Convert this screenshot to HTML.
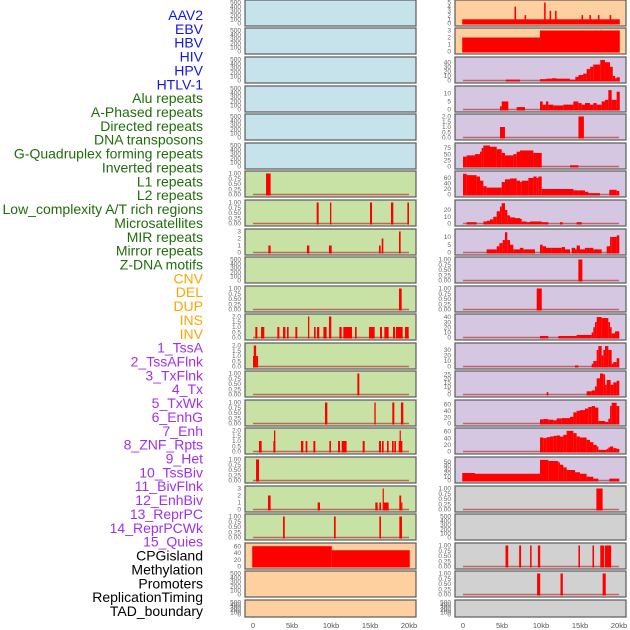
<!DOCTYPE html>
<html><head><meta charset="utf-8"><style>
html,body{margin:0;padding:0;background:#fff;width:630px;height:630px;overflow:hidden}
svg{display:block;font-family:"Liberation Sans",sans-serif}
</style></head><body>
<svg id="chart" width="630" height="630"></svg>
<script>
const labels=["AAV2","EBV","HBV","HIV","HPV","HTLV-1","Alu repeats","A-Phased repeats","Directed repeats","DNA transposons","G-Quadruplex forming repeats","Inverted repeats","L1 repeats","L2 repeats","Low_complexity A/T rich regions","Microsatellites","MIR repeats","Mirror repeats","Z-DNA motifs","CNV","DEL","DUP","INS","INV","1_TssA","2_TssAFlnk","3_TxFlnk","4_Tx","5_TxWk","6_EnhG","7_Enh","8_ZNF_Rpts","9_Het","10_TssBiv","11_BivFlnk","12_EnhBiv","13_ReprPC","14_ReprPCWk","15_Quies","CPGisland","Methylation","Promoters","ReplicationTiming","TAD_boundary"];
const labelGroups=[0,0,0,0,0,0,1,1,1,1,1,1,1,1,1,1,1,1,1,2,2,2,2,2,3,3,3,3,3,3,3,3,3,3,3,3,3,3,3,4,4,4,4,4];
const xTicks=[0,5,10,15,20];
const xTickLabels=["0","5kb","10kb","15kb","20kb"];
const T500=[0,100,200,300,400,500];
const T1=[0,0.25,0.5,0.75,1];
const T2=[0,0.5,1,1.5,2];
const T3=[0,1,2,3];
const leftBg=["b","b","b","b","b","b","g","g","g","g","g","g","g","g","g","g","g","g","g","o","o","o"];
const rightBg=["o","o","p","p","p","p","p","p","p","p","p","p","p","p","p","p","p","g2","g2","g2","g2","g2"];
const leftTicks=[T500,T500,T500,T500,T500,T500,T1,T1,T3,T500,T1,T2,T2,T1,T1,T2,T1,T3,T1,[0,20,40,60],T500,T500];
const leftYmax=[500,500,500,500,500,500,1,1,3,500,1,2,2,1,1,2,1,3,1,62,500,500];
const leftSegs=[[],[],[],[],[],[],
[[1.67,2.26,1]],
[[8.16,8.42,1],[9.87,10.04,1],[15.0,15.26,1],[17.69,17.99,1],[19.79,20.0,1]],
[[1.97,2.26,1],[6.92,7.22,1],[9.74,10.09,1],[16.15,16.37,1],[16.5,16.71,2],[18.72,18.93,3]],
[],
[[18.72,19.06,1]],
[[0.3,0.56,1],[1.03,1.45,1],[3.12,3.38,1],[3.85,4.15,1],[4.36,4.57,1],[5.43,5.68,1],[7.05,7.22,2],[7.82,8.03,1],[8.21,8.5,1],[9.02,9.44,1],[9.74,10.04,2],[11.07,11.37,1],[11.58,12.69,1],[13.08,13.29,1],[14.87,15.6,1],[16.28,16.54,1],[16.84,17.39,1],[17.95,18.21,1],[18.33,19.19,1],[19.49,19.96,1]],
[[0,0.4,1],[0.1,0.4,2],[0.4,0.65,1]],
[[13.38,13.63,1]],
[[9.23,9.53,1],[15.56,15.73,1],[17.86,18.12,1],[18.97,19.27,1]],
[[0.77,1.11,1],[2.61,2.86,1],[2.69,2.86,2],[6.15,6.45,1],[6.75,6.97,1],[7.74,7.99,1],[9.79,10.0,1],[10.9,11.15,1],[11.37,12.0,1],[14.06,14.32,1],[16.15,16.41,1],[16.54,16.75,1],[17.18,17.39,1],[17.82,18.03,1],[18.12,18.33,1],[18.68,19.15,1],[18.8,18.93,2]],
[[0.39,0.77,1]],
[[1.92,2.26,2],[8.29,8.59,1],[15.68,15.98,1],[16.2,16.41,1],[16.75,17.39,1],[16.62,16.75,3],[18.76,19.0,2],[19.0,19.1,1]],
[[3.85,4.07,1],[10.38,10.6,1],[16.2,16.41,1],[18.76,19.1,1]],
[[-0.1,10.1,60],[10.1,20.1,48]],
[],[]];
const rightTicks=[[0,1,2,3,4,5],T3,[0,10,20,30,40],[0,5,10],T2,[0,25,50,75],[0,20,40,60],[0,10,20],[0,5,10],T1,T1,[0,10,20,30,40],[0,10,20,30],[0,5,10,15,20,25],[0,20,40,60],[0,20,40,60],[0,10,20,30,40,50],T1,T500,T1,T1,T500];
const rightYmax=[5,3,46,13,2,85,76,31,13.5,1,1,41,38,26,66,63,56,1,500,1,1,500];
const rightSegs=[
[[-0.1,20.1,1],[6.6,6.8,4],[7.9,8.1,2],[10.4,10.6,5],[11.1,11.3,3],[11.8,12.0,3],[15.2,15.4,2],[16.2,16.4,2],[17.3,17.5,2],[18.8,19.0,2]],
[[-0.1,9.87,2],[9.87,20.1,3]],
[[5.5,7.3,2],[9.87,10.7,3],[10.7,11.4,4],[11.4,12.0,5],[12.0,13.7,4],[13.7,14.4,2],[14.4,14.8,8],[14.8,15.4,12],[15.4,15.85,15],[15.85,16.3,25],[16.3,16.7,30],[16.7,17.6,35],[17.6,18.2,45],[18.2,18.85,40],[18.85,19.2,30],[19.2,19.5,10],[19.5,19.7,5],[19.7,20.1,7]],
[[4.74,4.96,2],[4.96,5.81,5],[6.88,7.95,1.5],[9.87,10.21,5],[10.21,10.64,3],[10.64,10.94,5],[10.94,11.58,3],[11.58,12.86,2.5],[12.86,14.15,3],[14.15,14.78,5],[14.78,15.21,4],[15.21,15.64,3],[15.64,16.28,4],[16.28,16.71,3],[16.71,17.14,4],[17.14,17.78,3],[17.78,18.21,5],[18.21,18.63,6],[18.63,19.06,12],[19.06,19.7,6],[19.7,20.1,11]],
[[4.74,5.38,1],[14.8,15.5,2]],
[[0,0.47,40],[0.47,1.54,45],[1.54,2.18,50],[2.18,2.39,60],[2.39,2.61,75],[2.61,3.46,85],[3.46,4.32,80],[4.32,4.96,70],[4.96,5.38,55],[5.38,6.45,45],[6.45,6.88,50],[6.88,7.31,60],[7.31,9.02,65],[9.02,10.09,55],[13.72,14.79,5]],
[[0,0.47,75],[0.47,1.75,70],[1.75,2.18,65],[2.18,2.61,50],[2.61,3.03,30],[3.03,4.96,25],[4.96,5.38,45],[5.38,6.03,55],[6.03,6.88,58],[6.88,7.31,50],[7.31,7.52,45],[7.52,8.38,50],[8.38,9.02,60],[9.02,9.44,65],[9.44,9.66,60],[9.66,10.09,65],[10.09,14.15,20],[14.15,14.79,15],[14.79,15.64,15],[15.64,16.07,10],[16.07,17.56,5],[18.76,19.7,17],[19.7,20.04,13]],
[[0.47,1.75,2],[2.61,3.03,3],[3.03,3.46,4],[3.46,3.89,6],[3.89,4.32,10],[4.32,4.74,18],[4.74,4.96,25],[4.96,5.38,30],[5.38,5.68,20],[5.68,6.03,12],[6.03,6.67,9],[6.67,7.31,8],[7.31,7.52,7],[7.52,8.16,3],[8.16,8.59,2],[8.59,10.09,3],[10.09,10.94,2],[12.44,12.78,2],[14.57,15.21,2]],
[[3.03,4.32,2],[4.32,4.66,4],[4.66,5.09,6],[5.09,5.38,8],[5.38,5.68,13],[5.68,6.03,8],[6.03,6.45,5],[6.45,6.67,2],[6.67,7.31,2],[7.31,7.74,3],[7.74,9.23,2],[9.87,10.21,5],[10.21,10.64,4],[10.64,11.37,3],[11.37,12.65,3],[12.65,13.08,3.5],[13.08,13.72,2],[13.93,14.36,3],[14.36,14.57,2],[14.57,14.99,4.5],[14.99,15.64,2],[15.64,16.71,3],[16.71,17.78,2],[18.42,18.85,4],[18.85,19.06,10],[19.06,19.7,10],[19.7,20.04,11]],
[[14.79,15.3,1]],
[[9.45,10.1,1]],
[[9.87,10.94,3],[12.22,14.57,3],[14.57,14.99,5],[14.99,16.5,5],[16.5,16.71,10],[16.71,16.92,20],[16.92,17.14,30],[17.14,17.78,40],[17.78,18.63,38],[18.63,18.85,30],[18.85,19.06,20],[19.06,19.49,8],[19.49,20.04,12]],
[[14.36,14.79,2],[16.5,16.71,5],[16.71,17.14,10],[17.14,17.35,30],[17.35,17.78,37],[17.78,17.99,20],[17.99,18.21,30],[18.21,18.63,37],[18.63,19.06,30],[19.06,19.27,5],[19.27,19.7,8],[19.7,20.04,15]],
[[10.73,10.94,3],[15.85,16.5,4],[16.5,16.92,5],[16.92,17.14,10],[17.14,17.56,20],[17.56,17.99,26],[17.99,18.21,25],[18.21,18.42,12],[18.42,18.93,18],[18.93,19.27,12],[19.27,19.7,15],[19.7,20.04,17]],
[[9.87,10.3,13],[10.3,10.94,14],[10.94,11.58,12],[11.58,12.0,10],[12.0,12.65,16],[12.65,13.72,17],[13.72,14.15,21],[14.15,14.57,35],[14.57,14.99,40],[14.99,15.64,42],[15.64,16.07,47],[16.07,16.5,52],[16.5,16.92,55],[16.92,17.35,50],[17.35,18.21,8],[18.21,18.63,5],[18.63,18.85,15],[18.85,19.06,55],[19.06,19.7,65],[19.7,20.04,55]],
[[9.87,10.3,42],[10.3,10.73,40],[10.73,11.15,43],[11.15,11.58,45],[11.58,12.0,47],[12.0,12.44,48],[12.44,12.86,45],[12.86,13.29,50],[13.29,14.15,62],[14.15,14.57,55],[14.57,14.99,45],[14.99,15.85,42],[15.85,16.28,35],[16.28,16.71,28],[16.71,17.14,20],[17.14,17.35,15],[17.35,18.42,5],[18.42,18.63,8],[18.63,18.85,12],[18.85,19.27,15],[19.27,19.7,10],[19.7,20.04,8]],
[[-0.1,1.54,20],[1.54,9.87,18],[9.87,10.94,55],[10.94,12.22,52],[12.22,12.44,48],[12.44,12.86,42],[12.86,13.29,35],[13.29,13.72,28],[13.72,14.36,28],[14.36,14.99,22],[14.99,15.85,18],[15.85,16.71,10],[16.71,17.35,5],[18.76,20.04,5]],
[[17.1,17.9,1]],
[],
[[5.45,5.8,1],[7.2,7.45,1],[8.6,8.8,1],[9.6,9.9,1],[14.8,15.0,1],[16.6,16.8,1],[17.6,18.1,1],[18.2,19.0,1]],
[[9.5,9.9,1],[12.5,12.8,1],[17.9,18.3,1]],
[]];
const rowTops=[0,28,57,86,114,143,171,200,229,257,286,314,343,371,400,428,457,486,514,543,571,600];
const colors={b:"#c6e3eb",g:"#c8e1a5",o:"#fecf9f",p:"#d5c6e2",g2:"#d1d1d1"};
const groupColors=["#1414f0","#1f6e0a","#ffa500","#a030f0","#000000"];
const svg=document.getElementById('chart');
const NS="http://www.w3.org/2000/svg";
function mk(tag,attrs,parent){const e=document.createElementNS(NS,tag);for(const k in attrs)e.setAttribute(k,attrs[k]);(parent||svg).appendChild(e);return e;}
labels.forEach((t,i)=>{
  const e=mk('text',{x:203,y:15+i*13.86+5,'text-anchor':'end','font-size':'14',fill:groupColors[labelGroups[i]]});
  e.textContent=t;
  
  
});
function fmt(v,ticks){const m=Math.max(...ticks);if(m===1)return v.toFixed(2);if(m===2&&ticks.length===5)return v.toFixed(1);return String(v);}
function drawPanel(col,r,bg,ticks,ymax,segs){
  const x0=col===0?245:455, w=171, top=rowTops[r], h=r===21?17:26;
  const g=mk('g',{});
  
  
  const rect=mk('rect',{x:x0,y:top,width:w,height:h,fill:colors[bg],stroke:'#5a5a5a','stroke-width':1.2},g);
  
  
  const xs=kb=>x0+8+kb*7.8;
  const yb=top+h-2.5, yt=top+2.5;
  const ys=v=>yb-Math.min(v,ymax)/ymax*(yb-yt);
  ticks.forEach(v=>{
    const t=mk('text',{x:x0-4,y:ys(v)+2.2,'text-anchor':'end','font-size':'6.5',fill:'#666'},g);
    t.textContent=fmt(v,ticks);
    
    
  });
  if(segs.length){
    const bl=mk('line',{x1:xs(0),x2:xs(20),y1:yb,y2:yb,stroke:'#c04848','stroke-width':1.5,opacity:0.8},g);
    
    
  }
  segs.forEach(s=>{
    const a=xs(s[0]),b=xs(s[1]);
    const br=mk('rect',{x:a,y:ys(s[2]),width:Math.max(1.2,b-a),height:yb-ys(s[2])+1,fill:'#ff0000'},g);
    
    
  });
}
for(let r=0;r<22;r++){drawPanel(0,r,leftBg[r],leftTicks[r],leftYmax[r],leftSegs[r]);drawPanel(1,r,rightBg[r],rightTicks[r],rightYmax[r],rightSegs[r]);}
[0,1].forEach(col=>{
  xTicks.forEach((v,i)=>{
    const t=mk('text',{x:(col===0?253:463)+v*7.8,y:628,'text-anchor':'middle','font-size':'7.5',fill:'#555'});
    t.textContent=xTickLabels[i];
    
    
  });
});
</script>
</body></html>
